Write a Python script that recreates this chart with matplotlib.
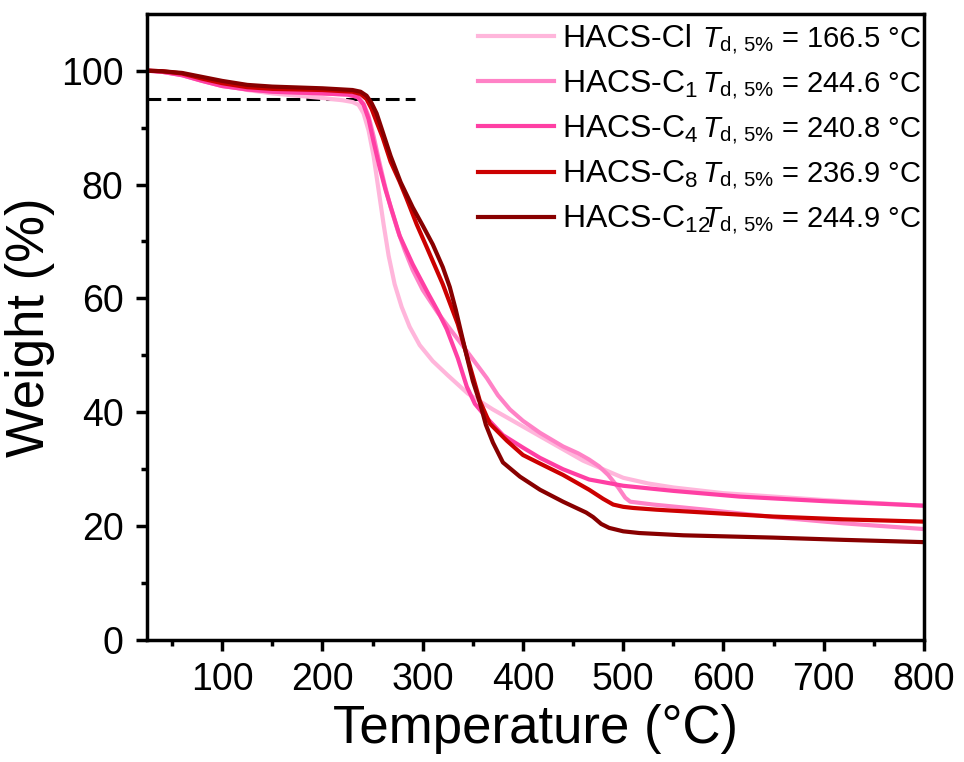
import numpy as np
import matplotlib
matplotlib.use('Agg')
import matplotlib.pyplot as plt

plt.rcParams['font.family'] = ['Liberation Sans', 'DejaVu Sans']
plt.rcParams['mathtext.fontset'] = 'custom'
plt.rcParams['mathtext.rm'] = 'Liberation Sans'
plt.rcParams['mathtext.it'] = 'Liberation Sans:italic'

# TGA curves
t_cl = [25, 40, 60, 80, 100, 125, 150, 175, 200, 220, 230, 236, 241, 246, 251, 256, 261, 266, 272, 279, 287, 297, 310, 325, 345, 370, 400, 430, 460, 480, 500, 525, 550, 600, 700, 800]
w_cl = [100, 99.9, 99.3, 98.4, 97.5, 96.6, 96, 95.6, 95.2, 94.8, 94.5, 94, 92.5, 89.5, 85, 79, 73, 67.5, 62.5, 58.5, 55, 51.8, 49, 46.5, 43.3, 40.5, 37.5, 34.5, 31.5, 30, 28.5, 27.5, 26.8, 25.8, 24.6, 23.6]

t_c1 = [25, 40, 60, 80, 100, 125, 150, 200, 225, 235, 241, 246, 251, 256, 262, 268, 275, 282, 290, 300, 315, 330, 345, 364, 375, 387, 400, 417, 440, 455, 466, 476, 485, 495, 502, 507, 530, 582, 650, 720, 800]
w_c1 = [100, 99.8, 99.2, 98.2, 97.3, 96.7, 96.3, 96, 95.8, 95.4, 94.2, 92, 88.5, 84.5, 80, 76, 72, 68.5, 65, 61.5, 57.5, 54, 50.5, 46, 43, 40.5, 38.5, 36.4, 34, 32.8, 31.7, 30.5, 29, 26.8, 25, 24.3, 23.8, 22.9, 21.6, 20.5, 19.5]

t_c4 = [25, 40, 60, 80, 100, 125, 150, 200, 225, 235, 241, 246, 251, 257, 263, 270, 277, 290, 305, 315, 324, 335, 344, 352, 364, 380, 400, 417, 440, 466, 500, 550, 616, 700, 800]
w_c4 = [100, 99.8, 99.2, 98.2, 97.3, 96.7, 96.3, 96, 95.8, 95.4, 94, 91.5, 87.5, 83, 79, 75, 71, 66, 61, 57.8, 54.6, 49.5, 44.5, 41.5, 39, 36, 33.8, 32, 30, 28.2, 27.1, 26.2, 25.2, 24.4, 23.6]

t_c8 = [25, 40, 60, 80, 100, 125, 150, 200, 230, 238, 244, 249, 254, 260, 268, 277, 284, 294, 304, 320, 335, 344, 357, 367, 384, 400, 417, 440, 466, 480, 490, 500, 510, 533, 600, 649, 720, 800]
w_c8 = [100, 99.9, 99.5, 98.6, 97.8, 97.1, 96.8, 96.6, 96.3, 95.9, 95, 93.3, 91, 88.3, 84, 80.5, 77.5, 73, 69, 62.5, 55.5, 50, 42, 38, 35, 32.5, 31, 29, 26.4, 24.8, 23.8, 23.4, 23.2, 22.9, 22.2, 21.7, 21.2, 20.8]

t_c12 = [25, 40, 60, 80, 100, 125, 150, 200, 230, 238, 244, 249, 254, 260, 268, 278, 290, 300, 310, 320, 327, 333, 339, 344, 350, 357, 363, 370, 380, 397, 417, 440, 463, 470, 478, 486, 500, 516, 560, 649, 720, 800]
w_c12 = [100, 99.9, 99.6, 98.9, 98.2, 97.5, 97.2, 96.9, 96.6, 96.3, 95.6, 94.3, 92.5, 89.3, 85, 80.4, 76, 72.8, 69.5, 65.5, 62, 58, 53.5, 49.8, 45.5, 41.7, 37.8, 34.7, 31.2, 28.7, 26.4, 24.3, 22.4, 21.6, 20.4, 19.7, 19.1, 18.8, 18.4, 18, 17.6, 17.2]

names = ['HACS-Cl', 'HACS-C$_1$', 'HACS-C$_4$', 'HACS-C$_8$', 'HACS-C$_{12}$']
td5 = [166.5, 244.6, 240.8, 236.9, 244.9]
colors = ['#FFB6DB', '#FF82C6', '#FF3FA4', '#CC0000', '#880000']
temps = [t_cl, t_c1, t_c4, t_c8, t_c12]
weights = [w_cl, w_c1, w_c4, w_c8, w_c12]

fig = plt.figure(figsize=(9.64, 7.62), dpi=100)
ax = fig.add_axes([0.1525, 0.160, 0.806, 0.822])

# 5% weight loss line
ax.plot([25, 292], [95, 95], color='black', lw=2.2, dashes=(4.5, 2))

for t, w, c, n in zip(temps, weights, colors, names):
    ax.plot(t, w, color=c, lw=3, label=n)

ax.set_xlim(25, 800)
ax.set_ylim(0, 110)
ax.set_xticks(np.arange(100, 801, 100))
ax.set_xticks(np.arange(50, 801, 100), minor=True)
ax.set_yticks(np.arange(0, 101, 20))
ax.set_yticks(np.arange(10, 101, 20), minor=True)

for s in ax.spines.values():
    s.set_linewidth(2.5)
ax.tick_params(which='major', direction='out', length=8, width=2.5, labelsize=27)
ax.tick_params(axis='y', which='major', pad=9)
ax.tick_params(axis='x', which='major', pad=8)
ax.tick_params(which='minor', direction='out', length=4, width=2.5)

ax.set_xlabel('Temperature (°C)', fontsize=38, labelpad=4)
ax.set_ylabel('Weight (%)', fontsize=38, labelpad=4)

leg = ax.legend(loc='upper left', bbox_to_anchor=(0.4225, 0.988), frameon=False,
                fontsize=23, handlelength=2.35, handletextpad=0.28,
                borderpad=0.1, borderaxespad=0, labelspacing=0.44)

# T_d,5% column, aligned with the legend rows
fig.canvas.draw()
x_td = 702
for txt, v in zip(leg.get_texts(), td5):
    bx, by = txt.get_transform().transform(txt.get_position())
    fig.text(x_td / 964, by / 762, r'$T_{\mathrm{d,\,5\%}}$' + ' = %.1f °C' % v,
             fontsize=21, ha='left', va='baseline')

fig.savefig('out.png', dpi=100)
